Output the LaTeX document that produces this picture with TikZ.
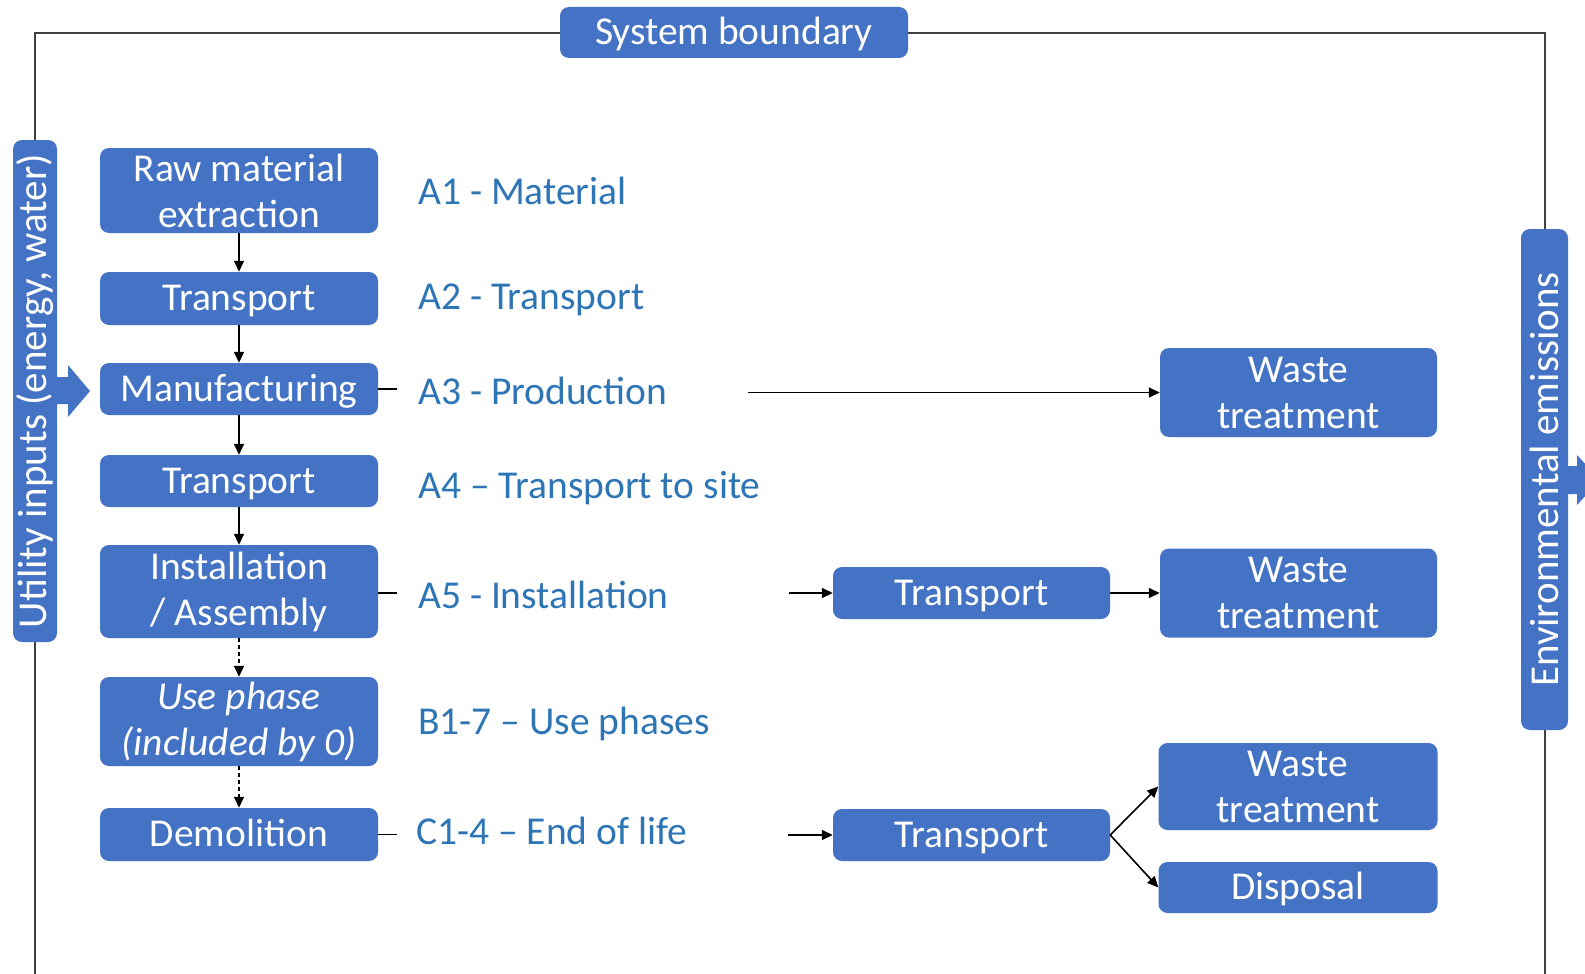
\documentclass[tikz,border=0pt]{standalone}
\usepackage{fontspec}
\setmainfont{Carlito}
\usetikzlibrary{arrows.meta,calc}
\definecolor{boxblue}{HTML}{4472C4}
\definecolor{lblblue}{HTML}{2E75B6}
\definecolor{bline}{HTML}{404040}
\begin{document}
\begin{tikzpicture}[x=1pt,y=-1pt,
  box/.style={rectangle, rounded corners=9pt, fill=boxblue, text=white, align=center, inner sep=0pt, font=\fontsize{39.5}{46}\selectfont},
  one/.style={text height=31pt, text depth=7pt},
  lbl/.style={anchor=west, inner sep=0pt, text=lblblue, font=\fontsize{39.5}{46}\selectfont},
  conn/.style={draw=black, line width=1.6pt, -{Triangle[length=11pt,width=10pt]}},
  dconn/.style={conn, dash pattern=on 4pt off 3pt},
  stub/.style={draw=black, line width=1.6pt},
  blockarrow/.style={fill=boxblue, draw=none}
]
\useasboundingbox (0,0) rectangle (1585,974);
\fill[white] (0,0) rectangle (1585,974);

% system boundary line
\draw[bline, line width=2pt] (35,985) -- (35,33) -- (1545,33) -- (1545,985);

% bars and block arrows
\node[box, rotate=90, minimum width=502pt, minimum height=44pt, font=\fontsize{41}{46}\selectfont] (util) at (35,391) {Utility inputs (energy, water)};
\node[box, rotate=90, minimum width=501pt, minimum height=47pt, font=\fontsize{41}{46}\selectfont] (env) at (1544.5,479.5) {Environmental emissions};
\fill[blockarrow] (55,377) -- (68,377) -- (68,365) -- (90,391) -- (68,417) -- (68,404) -- (55,404) -- cycle;
\fill[blockarrow] (1566,466) -- (1577,466) -- (1577,455) -- (1600,480) -- (1577,505) -- (1577,494) -- (1566,494) -- cycle;

\node[box, one, minimum width=348pt, minimum height=51pt] (sb) at (734,32.5) {System boundary};

% left column
\node[box, minimum width=278pt, minimum height=85pt] (raw) at (239,190.5) {Raw material\\extraction};
\node[box, one, minimum width=278pt, minimum height=53pt] (t1) at (239,298.5) {Transport};
\node[box, one, minimum width=278pt, minimum height=52pt] (manu) at (239,389) {Manufacturing};
\node[box, one, minimum width=278pt, minimum height=52pt] (t2) at (239,481) {Transport};
\node[box, minimum width=278pt, minimum height=93pt] (inst) at (239,591.5) {Installation\\/ Assembly};
\node[box, minimum width=278pt, minimum height=89pt, font=\fontsize{39.5}{46}\selectfont\itshape] (use) at (239,721.5) {Use phase\\(included by 0)};
\node[box, one, minimum width=278pt, minimum height=53pt] (demo) at (239,834.5) {Demolition};

% labels
\node[lbl, one] (lA1) at (418,192) {A1 - Material};
\node[lbl, one] (lA2) at (418,297) {A2 - Transport};
\node[lbl, one] (lA3) at (418,392) {A3 - Production};
\node[lbl, one] (lA4) at (418,486) {A4 – Transport to site};
\node[lbl, one] (lA5) at (418,596) {A5 - Installation};
\node[lbl, one] (lB) at (418,722) {B1-7 – Use phases};
\node[lbl, one] (lC) at (416,832) {C1-4 – End of life};

% right side
\node[box, one, minimum width=277pt, minimum height=52pt] (tA5) at (971.5,593) {Transport};
\node[box, one, minimum width=277pt, minimum height=52pt] (tC) at (971.5,835) {Transport};
\node[box, minimum width=277pt, minimum height=89pt] (wA3) at (1298.5,392.5) {Waste\\treatment};
\node[box, minimum width=277pt, minimum height=89pt] (wA5) at (1298.5,593) {Waste\\treatment};
\node[box, minimum width=279pt, minimum height=87pt] (wC) at (1298,786.5) {Waste\\treatment};
\node[box, one, minimum width=279pt, minimum height=51pt] (disp) at (1298,887.5) {Disposal};

% vertical chain
\draw[conn] (raw) -- (t1);
\draw[conn] (t1) -- (manu);
\draw[conn] (manu) -- (t2);
\draw[conn] (t2) -- (inst);
\draw[dconn] (inst) -- (use);
\draw[dconn] (use) -- (demo);

% stubs
\draw[stub] (manu.east) -- ++(19,0);
\draw[stub] (inst.east |- lA5.west) ++(0,-3) -- ++(19,0);
\draw[stub] (demo.east) -- ++(19,0);

% horizontal arrows
\coordinate (a3s) at (748,392.5);
\coordinate (a5s) at (789,593);
\coordinate (cs) at (788,835);
\draw[conn] (a3s) -- (wA3.west);
\draw[conn] (a5s) -- (tA5.west);
\draw[conn] (cs) -- (tC.west);
\draw[conn] (tA5.east) -- (wA5.west);
\draw[conn] (tC.east) -- (wC.west);
\draw[conn] (tC.east) -- (disp.west);
\end{tikzpicture}
\end{document}
